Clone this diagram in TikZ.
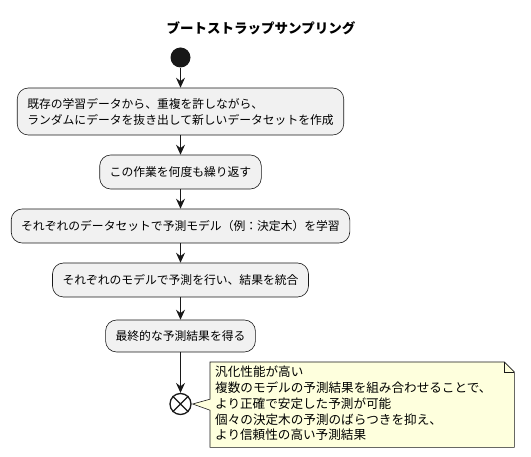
\documentclass[tikz,border=0pt]{standalone}
\usepackage{fontspec}
\setmainfont{Noto Sans CJK JP}
\usetikzlibrary{arrows.meta, calc}

\definecolor{actfill}{HTML}{F1F1F1}
\definecolor{actline}{HTML}{181818}
\definecolor{notefill}{HTML}{FEFFDD}

\begin{document}
\begin{tikzpicture}[x=1pt, y=-1pt, >={Stealth[length=10pt, width=9pt, inset=3.5pt]},
    action/.style={draw=actline, fill=actfill, rounded corners=11pt, line width=0.6pt,
        inner xsep=10pt, minimum height=34pt, align=left, font=\fontsize{11.8}{16}\selectfont},
    flow/.style={->, line width=0.8pt, actline}]

        \useasboundingbox (0,0) rectangle (531,457);

        % ==========================================
        % 1. Title and start
        % ==========================================
        \node[font=\bfseries\fontsize{13.5}{16}\selectfont] (title) at (261,28) {ブートストラップサンプリング};
        \node[circle, fill=actline, minimum size=20pt, inner sep=0pt] (start) at (180.5,57.5) {};

        % ==========================================
        % 2. Actions
        % ==========================================
        \node[action, minimum height=47pt] (sample) at (180.5,111.5)
            {既存の学習データから、重複を許しながら、\\ランダムにデータを抜き出して新しいデータセットを作成};
        \node[action] (repeat) at (180.5,172) {この作業を何度も繰り返す};
        \node[action] (train) at (180.5,226) {それぞれのデータセットで予測モデル（例：決定木）を学習};
        \node[action] (merge) at (180.5,280) {それぞれのモデルで予測を行い、結果を統合};
        \node[action, minimum height=32pt] (result) at (180.5,336) {最終的な予測結果を得る};

        % end of flow (circle with cross)
        \node[circle, draw=actline, line width=1.3pt, minimum size=21pt, inner sep=0pt] (stop) at (180.5,404) {};
        \draw[actline, line width=1.3pt] (stop.45) -- (stop.225) (stop.135) -- (stop.315);

        % arrows
        \draw[flow] (start) -- (sample);
        \draw[flow] (sample) -- (repeat);
        \draw[flow] (repeat) -- (train);
        \draw[flow] (train) -- (merge);
        \draw[flow] (merge) -- (result);
        \draw[flow] (result) -- (stop);

        % ==========================================
        % 3. Note
        % ==========================================
        \node[minimum width=304pt, minimum height=85pt, inner sep=0pt, anchor=north west] (note) at (210,362) {};
        \draw[actline, fill=notefill, line width=0.6pt]
            (note.north west) -- ($(note.north east)+(-10,0)$) -- ($(note.north east)+(0,10)$)
            -- (note.south east) -- (note.south west) -- ($(note.west)+(0,5.5)$)
            -- ($(stop.east)+(1,0)$) -- ($(note.west)+(0,-5.5)$) -- cycle;
        \draw[actline, line width=0.6pt] ($(note.north east)+(-10,0)$) -- ++(0,10) -- ++(10,0);
        \node[anchor=north west, inner sep=0pt, align=left, font=\fontsize{12.6}{15.9}\selectfont] (notetext)
            at ($(note.north west)+(5,3.5)$)
            {汎化性能が高い\\複数のモデルの予測結果を組み合わせることで、\\より正確で安定した予測が可能\\個々の決定木の予測のばらつきを抑え、\\より信頼性の高い予測結果};

    \end{tikzpicture}
\end{document}
